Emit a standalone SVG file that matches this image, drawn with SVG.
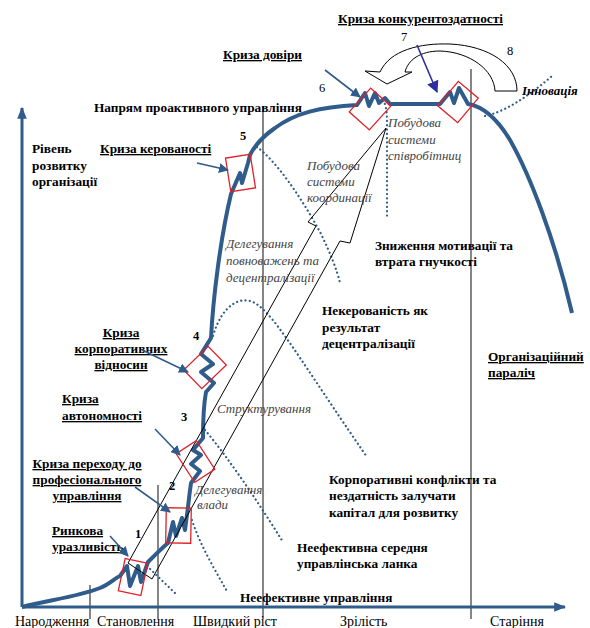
<svg xmlns="http://www.w3.org/2000/svg" width="590" height="628" viewBox="0 0 590 628" font-family="'Liberation Serif', 'DejaVu Serif', serif">
<style>
text{font-family:'Liberation Serif','DejaVu Serif',serif;fill:#000}
.b{font-weight:bold;font-size:13.3px}
.u{text-decoration:underline}
.r{font-size:14px}
.i{font-style:italic;font-size:13px;fill:#444}
.n{font-size:12.5px}
.nb{font-size:12.5px;font-weight:bold}
.curve{fill:none;stroke:#2F5C8A;stroke-width:4;stroke-linejoin:round}
.axis{fill:none;stroke:#2F5C8A;stroke-width:3}
.box{fill:none;stroke:#E0202A;stroke-width:1.3}
.vl{stroke:#222;stroke-width:1.1}
.dot{fill:none;stroke:#2F5C8A;stroke-width:2.2;stroke-linecap:round;stroke-dasharray:0.1 4.2}
.pt{fill:none;stroke:#2F5C8A;stroke-width:1.6}
.thin{fill:none;stroke:#000;stroke-width:1}
</style>
<defs>
<marker id="ah2" viewBox="0 0 10 10" refX="9" refY="5" markerWidth="10" markerHeight="10" orient="auto" markerUnits="userSpaceOnUse">
<path d="M0,0 L10,5 L0,10 z" fill="#2F5C8A"/>
</marker>
<marker id="ahi" viewBox="0 0 10 10" refX="9" refY="5" markerWidth="12" markerHeight="12" orient="auto" markerUnits="userSpaceOnUse">
<path d="M0,0 L10,5 L0,10 z" fill="#2E2EA0"/>
</marker>
<marker id="axh" viewBox="0 0 10 10" refX="9" refY="5" markerWidth="12" markerHeight="12" orient="auto" markerUnits="userSpaceOnUse">
<path d="M0,1 L10,5 L0,9 z" fill="#2F5C8A"/>
</marker>
</defs>

<g id="axes">
<line class="vl" x1="90" y1="585" x2="90" y2="619"/>
<line class="vl" x1="158" y1="485" x2="158" y2="619"/>
<line class="vl" x1="263" y1="107" x2="263" y2="619"/>
<line class="vl" x1="471" y1="69" x2="471" y2="619"/>
<line class="axis" x1="22" y1="607" x2="22" y2="108" marker-end="url(#axh)"/>
<line class="axis" x1="22" y1="607" x2="565" y2="607" marker-end="url(#axh)"/>
<text class="r" x="15" y="626">Народження</text>
<text class="r" x="97" y="626">Становлення</text>
<text class="r" x="193" y="626">Швидкий ріст</text>
<text class="r" x="340" y="626">Зрілість</text>
<text class="r" x="490" y="626">Старіння</text>
<text class="b" x="32" y="153">Рівень</text>
<text class="b" x="32" y="170">розвитку</text>
<text class="b" x="32" y="186">організації</text>
</g>

<g id="dotted">
<path class="dot" d="M147,566 L176,594"/>
<path class="dot" d="M192,520 C200,545 215,570 228,593"/>
<path class="dot" d="M205,430 C230,460 260,505 283,542"/>
<path class="dot" d="M213,336 C222,305 240,295 255,303 C275,315 300,360 367,457"/>
<path class="dot" d="M257,147 C275,160 300,195 320,232 C330,252 337,270 340,283"/>
<path class="dot" d="M383,100 C386,105 387,112 387,122 L387,218"/>
<path class="dot" d="M485,116 C505,112 530,95 552,76"/>
</g>

<g id="curve">
<path class="curve" d="M22,607 C50,600 80,596 100,588 C110,584 115,578 120,576 L127,566 L130,586 L138,566 L141,582 L148,562 C155,555 162,548 168,543 L173,522 L176,536 L182,518 L185,530 L188,507 C189,498 190,490 191,483 L200,471 L191,464 L201,455 L193,450 L203,438 C203,425 203,408 206,392 L214,383 L201,372 L213,364 L201,354 L211,338 C213,300 220,240 231,194 L240,173 L242,183 L248,163 L250,155 C255,145 262,137 275,128 C295,113 320,107 357,105 L365,93 L369,106 L375,93 L379,103 L385,98 L390,104 L440,104 L450,92 L454,103 L459,88 L468,104 C480,106 495,115 510,140 C530,175 555,240 572,313"/>
</g>

<g id="big-arrow">
<path class="thin" d="M128,563 L316,226 L308,222 L386,128 L350,243 L340,241 L152,579 Z"/>
</g>

<g id="innovation-arrow">
<path class="thin" d="M380,72 C390,50 420,43 450,44 C490,46 517,65 517,91 L495,91 C494,70 470,52 440,51 C420,51 408,60 405,72 L412,72 L387,84 L365,71 Z"/>
<text class="n" x="401" y="41">7</text>
<text class="n" x="507" y="55">8</text>
<text x="522" y="95" style="font-weight:bold;font-style:italic;font-size:13px">Інновація</text>
</g>

<g id="crisis1">
<rect class="box" x="121.5" y="560.5" width="23" height="33" transform="rotate(12 133 577)"/>
<text class="nb" x="135" y="538">1</text>
<text class="b u" x="52" y="535">Ринкова</text>
<text class="b u" x="52" y="551">уразливість</text>
</g>
<g id="crisis2">
<rect class="box" x="166" y="508" width="25" height="35" transform="rotate(1 178.5 525.5)"/>
<text class="nb" x="169" y="490">2</text>
<text class="b u" x="87" y="468" text-anchor="middle">Криза переходу до</text>
<text class="b u" x="87" y="484" text-anchor="middle">професіонального</text>
<text class="b u" x="87" y="500" text-anchor="middle">управління</text>
</g>
<g id="crisis3">
<rect class="box" x="183.5" y="444.5" width="24" height="34" transform="rotate(-33 195.5 461.5)"/>
<text class="nb" x="181" y="421">3</text>
<text class="b u" x="62" y="403">Криза</text>
<text class="b u" x="62" y="420">автономності</text>
</g>
<g id="crisis4">
<rect class="box" x="192" y="350.5" width="26" height="34" transform="rotate(46 205 367.5)"/>
<text class="nb" x="193" y="340">4</text>
<text class="b u" x="121" y="337" text-anchor="middle">Криза</text>
<text class="b u" x="121" y="353" text-anchor="middle">корпоративних</text>
<text class="b u" x="121" y="369" text-anchor="middle">відносин</text>
</g>
<g id="crisis5">
<rect class="box" x="228" y="156" width="25" height="34" transform="rotate(-9 240.5 173)"/>
<text class="nb" x="240" y="140">5</text>
<text class="b u" x="100" y="153">Криза керованості</text>
</g>
<g id="crisis6">
<rect class="box" x="356.5" y="93" width="27" height="32" transform="rotate(42 370 109)"/>
<text class="n" x="319" y="92">6</text>
<text class="b u" x="223" y="59">Криза довіри</text>
</g>
<g id="crisis7">
<rect class="box" x="445" y="86" width="26" height="32" transform="rotate(40 458 102)"/>
<text class="b u" x="338" y="23">Криза конкурентоздатності</text>
</g>

<g id="labels">
<text class="b" x="94" y="112">Напрям проактивного управління</text>
<text class="i" x="195" y="494">Делегування</text>
<text class="i" x="197" y="509">влади</text>
<text class="i" x="217" y="413">Структурування</text>
<text class="i" x="226" y="248">Делегування</text>
<text class="i" x="226" y="265">повноважень та</text>
<text class="i" x="226" y="282">децентралізації</text>
<text class="i" x="307" y="170">Побудова</text>
<text class="i" x="307" y="186">системи</text>
<text class="i" x="307" y="202">координації</text>
<text class="i" x="388" y="127">Побудова</text>
<text class="i" x="388" y="144">системи</text>
<text class="i" x="388" y="160">співробітниц</text>
<text class="b" x="375" y="250" textLength="138" lengthAdjust="spacing">Зниження мотивації та</text>
<text class="b" x="375" y="266">втрата гнучкості</text>
<text class="b" x="322" y="315">Некерованість як</text>
<text class="b" x="322" y="332">результат</text>
<text class="b" x="322" y="348">децентралізації</text>
<text class="b u" x="488" y="361">Організаційний</text>
<text class="b u" x="488" y="377">параліч</text>
<text class="b" x="329" y="484">Корпоративні конфлікти та</text>
<text class="b" x="329" y="500">нездатність залучати</text>
<text class="b" x="329" y="517">капітал для розвитку</text>
<text class="b" x="297" y="552">Неефективна середня</text>
<text class="b" x="297" y="568">управлінська ланка</text>
<text class="b" x="240" y="602">Неефективне управління</text>
</g>

<g id="connectors">
<line class="pt" x1="110" y1="536" x2="128" y2="556" marker-end="url(#ah2)"/>
<line class="pt" x1="135" y1="487" x2="170" y2="512" marker-end="url(#ah2)"/>
<line class="pt" x1="155" y1="429" x2="180" y2="455" marker-end="url(#ah2)"/>
<line class="pt" x1="142" y1="350" x2="188" y2="372" marker-end="url(#ah2)"/>
<line class="pt" x1="197" y1="163" x2="228" y2="170" marker-end="url(#ah2)"/>
<line class="pt" x1="325" y1="70" x2="360" y2="97" marker-end="url(#ah2)"/>
<line x1="417" y1="45" x2="437" y2="92" stroke="#2E2EA0" stroke-width="1.6" marker-end="url(#ahi)"/>
</g>
</svg>
